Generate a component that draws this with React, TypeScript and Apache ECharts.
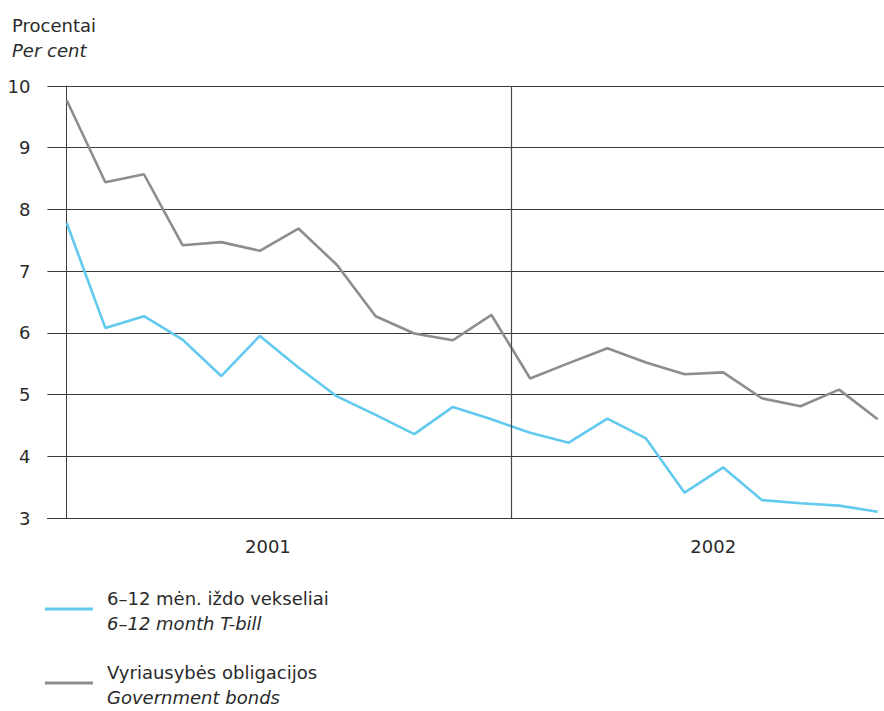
import React, { useEffect, useRef } from "react";
import * as echarts from "echarts";

const months = [
  "2001-01", "2001-02", "2001-03", "2001-04", "2001-05", "2001-06",
  "2001-07", "2001-08", "2001-09", "2001-10", "2001-11", "2001-12",
  "2002-01", "2002-02", "2002-03", "2002-04", "2002-05", "2002-06",
  "2002-07", "2002-08", "2002-09", "2002-10",
];
const tbill = [7.78, 6.08, 6.27, 5.89, 5.30, 5.95, 5.44, 4.97, 4.67, 4.36, 4.80, 4.60, 4.38, 4.22, 4.61, 4.29, 3.41, 3.82, 3.29, 3.24, 3.20, 3.10];
const bonds = [9.77, 8.44, 8.57, 7.42, 7.47, 7.33, 7.69, 7.10, 6.27, 5.99, 5.88, 6.29, 5.26, 5.51, 5.75, 5.52, 5.33, 5.36, 4.94, 4.81, 5.08, 4.60];
const yearLabels = ["2001", "2002"];
const yearLabelPos = [5.21, 16.74];
const yearBoundary = 11.5;
const seriesNames = ["6–12 mėn. iždo vekseliai", "Vyriausybės obligacijos"];
const seriesNamesEn = ["6–12 month T-bill", "Government bonds"];
const colors = ["#62c9ef", "#8d8d90"];

const FONT = "'DejaVu Sans', sans-serif";
const FS = 18;

export default function App() {
  const ref = useRef<HTMLDivElement>(null);
  useEffect(() => {
    if (!ref.current) return;
    const chart = echarts.init(ref.current, undefined, { renderer: "svg" });
    const toPairs = (arr: number[]) => arr.map((v, i) => [i, v]);
    const legendGraphics: any[] = [];
    const legendTop = [609, 683];
    seriesNames.forEach((n, k) => {
      legendGraphics.push({
        type: "line",
        shape: { x1: 45, y1: legendTop[k], x2: 93, y2: legendTop[k] },
        style: { stroke: colors[k], lineWidth: 3 },
      });
      legendGraphics.push({
        type: "text",
        x: 107,
        y: legendTop[k] - 11,
        style: { text: n, font: `${FS}px ${FONT}`, fill: "#2a2a2a", textVerticalAlign: "middle" },
      });
      legendGraphics.push({
        type: "text",
        x: 107,
        y: legendTop[k] + 14,
        style: { text: seriesNamesEn[k], font: `italic ${FS}px ${FONT}`, fill: "#2a2a2a", textVerticalAlign: "middle" },
      });
    });
    legendGraphics.push({
      type: "text",
      x: 12,
      y: 25,
      style: { text: "Procentai", font: `${FS}px ${FONT}`, fill: "#2a2a2a", textVerticalAlign: "middle" },
    });
    legendGraphics.push({
      type: "text",
      x: 12,
      y: 50,
      style: { text: "Per cent", font: `italic ${FS}px ${FONT}`, fill: "#2a2a2a", textVerticalAlign: "middle" },
    });
    chart.setOption({
      animation: false,
      textStyle: { fontFamily: FONT },
      grid: { left: 47.4, right: 0, top: 86, bottom: 193, containLabel: false },
      xAxis: {
        type: "value",
        min: -0.5,
        max: 21.5,
        axisLine: { show: true, lineStyle: { color: "#3a3a3a", width: 1 } },
        axisTick: { show: false },
        splitLine: { show: false },
        axisLabel: {
          customValues: yearLabelPos,
          formatter: (v: number) => (v < yearBoundary ? yearLabels[0] : yearLabels[1]),
          fontSize: FS,
          color: "#2a2a2a",
          margin: 19,
          fontFamily: FONT,
        },
      },
      yAxis: {
        type: "value",
        min: 3,
        max: 10,
        interval: 1,
        axisLine: { show: true, lineStyle: { color: "#3a3a3a", width: 1 } },
        axisTick: { show: false },
        splitLine: { show: true, lineStyle: { color: "#3a3a3a", width: 1 } },
        axisLabel: { fontSize: FS, color: "#2a2a2a", margin: 17, fontFamily: FONT },
      },
      series: [
        {
          name: seriesNames[0],
          type: "line",
          data: toPairs(tbill),
          symbol: "none",
          lineStyle: { color: colors[0], width: 2.6 },
          itemStyle: { color: colors[0] },
          z: 3,
          markLine: {
            silent: true,
            symbol: "none",
            label: { show: false },
            lineStyle: { color: "#4a4a4a", width: 1.2, type: "solid" },
            data: [{ xAxis: yearBoundary }],
          },
        },
        {
          name: seriesNames[1],
          type: "line",
          data: toPairs(bonds),
          symbol: "none",
          lineStyle: { color: colors[1], width: 2.6 },
          itemStyle: { color: colors[1] },
          z: 3,
        },
      ],
      graphic: legendGraphics,
    });
    return () => chart.dispose();
  }, []);
  return (
    <div
      ref={ref}
      style={{ position: "fixed", left: 0, top: 0, width: 897, height: 711, background: "#fff" }}
    />
  );
}
